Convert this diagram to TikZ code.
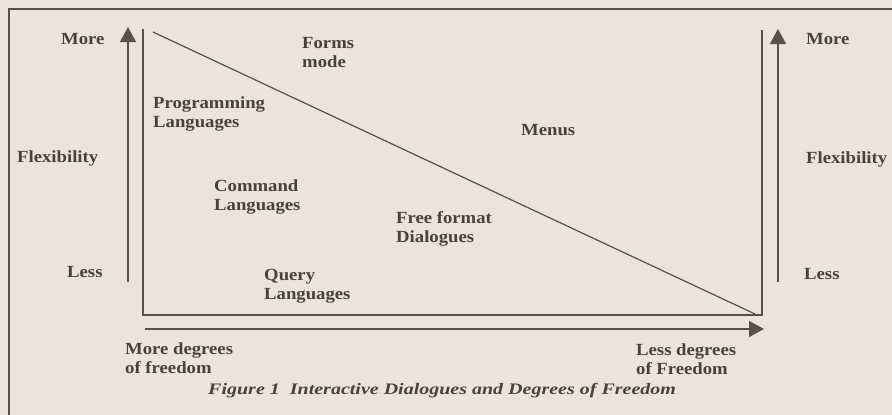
\documentclass[tikz,border=0pt]{standalone}
\usepackage{fontspec}
\setmainfont{Liberation Serif}
\newfontfamily\figfont[FakeStretch=1.1]{Liberation Serif}
\newfontfamily\capfont[FakeStretch=1.25]{Liberation Serif}
\usetikzlibrary{arrows.meta}
\definecolor{paper}{HTML}{E9E5DA}
\definecolor{ink}{HTML}{4A413C}
\definecolor{rule}{HTML}{5A504A}
\tikzset{
  lbl/.style={anchor=base west, inner sep=0pt, text=ink, font=\figfont\fontsize{17}{18.5}\selectfont\bfseries, align=left},
  axis/.style={draw=rule, line width=1.4pt, -{Triangle[width=16pt,length=15pt]}},
  frame/.style={draw=rule, line width=1.4pt},
}
\begin{document}
\begin{tikzpicture}[x=1pt,y=-1pt]
\fill[paper] (0,0) rectangle (892,415);
\useasboundingbox (0,0) rectangle (892,415);
% outer frame (cropped)
\draw[frame] (9,415) -- (9,9) -- (892,9);
% coordinates
\coordinate (la0) at (128,282);
\coordinate (la1) at (128,27);
\coordinate (ra0) at (778,282);
\coordinate (ra1) at (778,29);
\coordinate (ba0) at (145,329);
\coordinate (ba1) at (764,329);
\coordinate (bxtl) at (143,29);
\coordinate (bxbl) at (143,315);
\coordinate (bxbr) at (762,315);
\coordinate (bxtr) at (762,30);
\coordinate (d0) at (153,32);
\coordinate (d1) at (755,314);
% inner box
\draw[frame] (bxtl) -- (bxbl) -- (bxbr) -- (bxtr);
\draw[draw=rule, line width=1.2pt] (d0) -- (d1);
% axes
\draw[axis] (la0) -- (la1);
\draw[axis] (ra0) -- (ra1);
\draw[axis] (ba0) -- (ba1);
% labels (base = baseline of the last line)
\node[lbl] (lmore) at (61,44) {More};
\node[lbl] (lflex) at (17,162) {Flexibility};
\node[lbl] (lless) at (67,277) {Less};
\node[lbl] (rmore) at (806,44) {More};
\node[lbl] (rflex) at (806,163) {Flexibility};
\node[lbl] (rless) at (804,279) {Less};
\node[lbl] (forms) at (302,67) {Forms\\mode};
\node[lbl] (prog) at (153,127) {Programming\\Languages};
\node[lbl] (menus) at (521,135) {Menus};
\node[lbl] (cmd) at (214,210) {Command\\Languages};
\node[lbl] (free) at (396,242) {Free format\\Dialogues};
\node[lbl] (query) at (264,299) {Query\\Languages};
\node[lbl] (moredeg) at (125,373) {More degrees\\of freedom};
\node[lbl] (lessdeg) at (636,374) {Less degrees\\of Freedom};
\node[lbl, font=\capfont\fontsize{16}{18}\selectfont\bfseries\itshape] (cap) at (208,394) {Figure 1\ \ Interactive Dialogues and Degrees of Freedom};
\end{tikzpicture}
\end{document}
